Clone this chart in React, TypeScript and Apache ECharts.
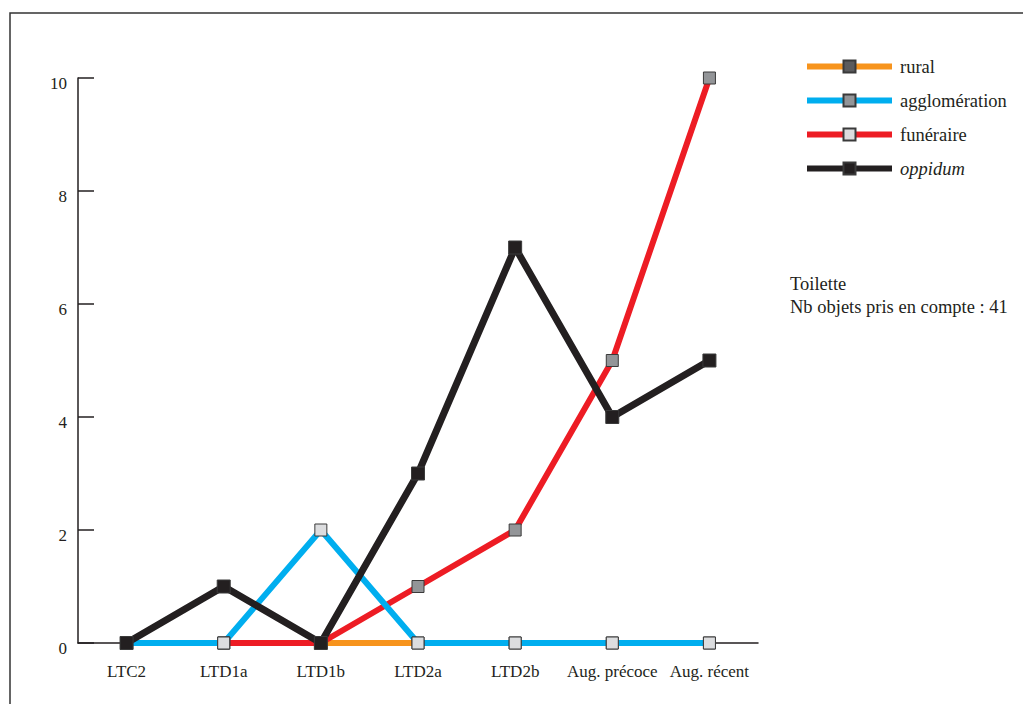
import React, { useEffect, useRef } from "react";
import * as echarts from "echarts";

const categories = ["LTC2", "LTD1a", "LTD1b", "LTD2a", "LTD2b", "Aug. précoce", "Aug. récent"];
const rural = [0, 0, 0, 0, 0, 0, 0];
const agglomeration = [0, 0, 2, 0, 0, 0, 0];
const funeraire = [0, 0, 0, 1, 2, 5, 10];
const oppidum = [0, 1, 0, 3, 7, 4, 5];
const yTicks = { min: 0, max: 10, interval: 2 };
const legendNames = ["rural", "agglomération", "funéraire", "oppidum"];
const noteLines = ["Toilette", "Nb objets pris en compte : 41"];

const FONT = "Times New Roman";
const INK = "#231f20";

export default function App() {
  const ref = useRef<HTMLDivElement>(null);
  useEffect(() => {
    if (!ref.current) return;
    const chart = echarts.init(ref.current, undefined, { renderer: "svg" });
    const lineSeries = (name: string, data: number[], color: string, markerColor: string, width: number, size: number) => ({
      name,
      type: "line",
      data,
      symbol: "rect",
      symbolSize: size,
      showAllSymbol: true,
      lineStyle: { color, width },
      itemStyle: { color: markerColor, borderColor: "#3a3a3a", borderWidth: 1 },
      emphasis: { disabled: true },
    });
    chart.setOption({
      animation: false,
      textStyle: { fontFamily: FONT },
      grid: { left: 78, right: 265, top: 78, bottom: 61, containLabel: false },
      xAxis: {
        type: "category",
        data: categories,
        boundaryGap: true,
        axisLine: { lineStyle: { color: INK, width: 1.5 } },
        axisTick: { inside: true, length: 13, lineStyle: { color: INK, width: 1.5 } },
        axisLabel: { interval: 0, margin: 20, color: INK, fontSize: 17, fontFamily: FONT },
        splitLine: { show: false },
      },
      yAxis: {
        type: "value",
        min: yTicks.min,
        max: yTicks.max,
        interval: yTicks.interval,
        axisLine: { show: true, lineStyle: { color: INK, width: 1.5 } },
        axisTick: { show: true, inside: true, length: 16, lineStyle: { color: INK, width: 1.5 } },
        axisLabel: { margin: 11, color: INK, fontSize: 17, fontFamily: FONT, verticalAlign: "top", lineHeight: 11 },
        splitLine: { show: false },
      },
      legend: {
        orient: "vertical",
        left: 804,
        top: 57,
        padding: 0,
        itemWidth: 85,
        itemHeight: 15,
        itemGap: 15,
        selectedMode: false,
        data: [
          { name: legendNames[0], itemStyle: { color: "#5b5b5d" }, lineStyle: { width: 6, color: "#f7941d" } },
          { name: legendNames[1], itemStyle: { color: "#939598" }, lineStyle: { width: 6, color: "#00aeef" } },
          { name: legendNames[2], itemStyle: { color: "#dcdddf" }, lineStyle: { width: 6, color: "#ed1c24" } },
          { name: legendNames[3], itemStyle: { color: INK }, lineStyle: { width: 6, color: INK } },
        ],
        formatter: (n: string) => (n === "oppidum" ? "{i|" + n + "}" : "{n|" + n + "}"),
        textStyle: {
          color: INK,
          fontSize: 18.5,
          fontFamily: FONT,
          rich: {
            n: { fontSize: 18.5, fontFamily: FONT, color: INK, padding: [0, 0, 0, 3] },
            i: { fontSize: 18.5, fontFamily: FONT, color: INK, fontStyle: "italic", padding: [0, 0, 0, 3] },
          },
        },
      },
      graphic: [
        {
          type: "rect",
          shape: { x: 10, y: 13, width: 1100, height: 800 },
          style: { fill: "none", stroke: "#333", lineWidth: 1.5 },
          silent: true,
        },
        {
          type: "text",
          left: 790,
          top: 272,
          style: { text: noteLines.join("\n"), fontSize: 18.5, fontFamily: FONT, fill: INK, lineHeight: 23 },
        },
      ],
      series: [
        lineSeries(legendNames[0], rural, "#f7941d", "#5b5b5d", 6, 12),
        lineSeries(legendNames[2], funeraire, "#ed1c24", "#939598", 6, 12),
        lineSeries(legendNames[1], agglomeration, "#00aeef", "#dcdddf", 6, 12),
        lineSeries(legendNames[3], oppidum, INK, INK, 7, 13),
      ],
    });
    return () => chart.dispose();
  }, []);
  return (
    <div
      ref={ref}
      style={{ position: "fixed", left: 0, top: 0, width: 1023, height: 704, background: "#fff" }}
    />
  );
}
